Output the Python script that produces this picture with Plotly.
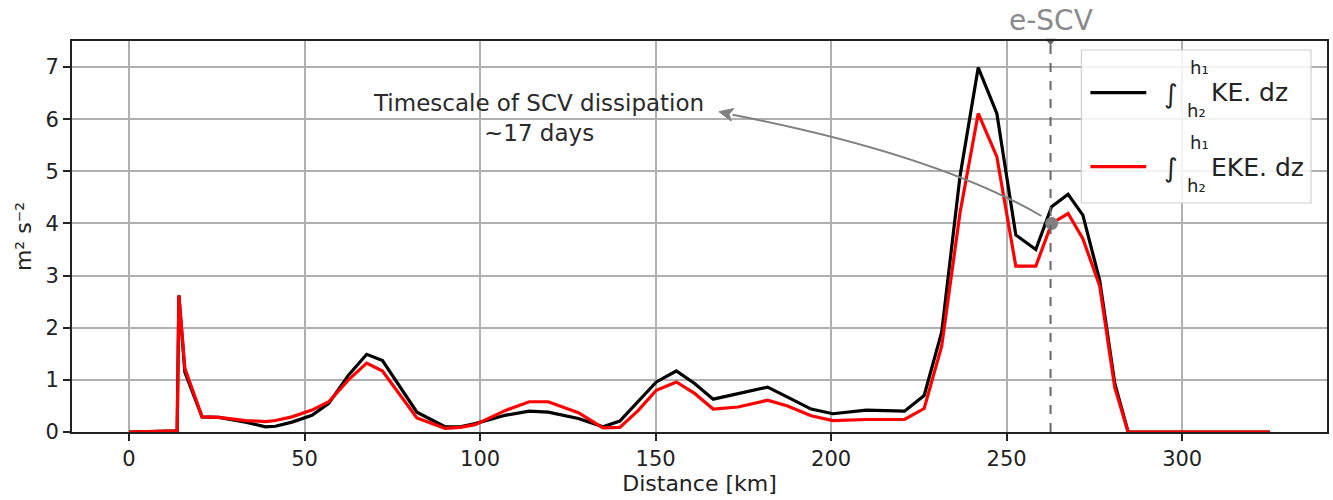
import plotly.graph_objects as go

# ---- data ----
distance_km = [0, 13.7, 14.2, 15.9, 20.8, 25.6, 33.2, 38.9, 41.7, 46.4,
               52.1, 56.9, 62.5, 67.7, 72.2, 82.0, 90.0, 94.3, 98.6, 107.1,
               114.0, 119.4, 128.0, 135.0, 139.8, 145.0, 150.2, 155.9, 161.1, 166.4,
               173.5, 181.9, 187.6, 194.3, 200.5, 210.0, 220.9, 226.5, 231.5, 236.7,
               241.9, 247.2, 252.6, 258.3, 262.8, 267.5, 271.7, 276.5, 280.8, 284.6,
               325.0]
ke_int = [0, 0.02, 2.62, 1.15, 0.29, 0.28, 0.19, 0.10, 0.11, 0.19,
          0.32, 0.55, 1.09, 1.49, 1.37, 0.38, 0.10, 0.10, 0.16, 0.32,
          0.40, 0.38, 0.26, 0.10, 0.21, 0.58, 0.96, 1.17, 0.93, 0.63,
          0.74, 0.86, 0.67, 0.44, 0.35, 0.42, 0.40, 0.70, 1.92, 4.90,
          6.99, 6.11, 3.78, 3.50, 4.32, 4.56, 4.16, 2.91, 0.93, 0.0,
          0.0]
eke_int = [0, 0.02, 2.62, 1.22, 0.29, 0.28, 0.22, 0.20, 0.22, 0.29,
           0.42, 0.58, 1.00, 1.32, 1.17, 0.27, 0.07, 0.09, 0.14, 0.41,
           0.58, 0.58, 0.37, 0.08, 0.09, 0.41, 0.80, 0.96, 0.74, 0.44,
           0.48, 0.61, 0.50, 0.31, 0.22, 0.24, 0.24, 0.45, 1.65, 4.20,
           6.11, 5.28, 3.18, 3.18, 4.00, 4.19, 3.71, 2.80, 0.85, 0.0,
           0.0]
escv_km = 262.5
dissipation_point = (262.8, 4.0)
x_ticks = [0, 50, 100, 150, 200, 250, 300]
y_ticks = [0, 1, 2, 3, 4, 5, 6, 7]
x_range = [-16.25, 341.25]
y_range = [0, 7.5]

FONT = "DejaVu Sans"
GRAY = "#808080"

# plot-area geometry (pixels)
W, H, L, T = 1257, 391, 72, 41


def px(xp):
    return (xp - L) / W


def py(yp):
    return (T + H - yp) / H


def dx(xp):  # pixel -> data x
    return x_range[0] + (xp - L) / W * (x_range[1] - x_range[0])


def dy(yp):  # pixel -> data y
    return y_range[0] + (T + H - yp) / H * (y_range[1] - y_range[0])


fig = go.Figure()
fig.add_trace(go.Scatter(x=distance_km, y=ke_int, mode="lines",
                         name="∫ KE. dz", line=dict(color="black", width=3.2),
                         showlegend=False))
fig.add_trace(go.Scatter(x=distance_km, y=eke_int, mode="lines",
                         name="∫ EKE. dz", line=dict(color="#ff0000", width=3.2),
                         showlegend=False))
fig.add_trace(go.Scatter(x=[dissipation_point[0]], y=[dissipation_point[1]], mode="markers",
                         marker=dict(color=GRAY, size=13), showlegend=False))
fig.add_trace(go.Scatter(x=[escv_km], y=[y_range[1]], mode="markers", cliponaxis=False,
                         marker=dict(color="#666666", size=9, symbol="triangle-down"),
                         showlegend=False))

shapes = []
# e-SCV dashed line
shapes.append(dict(type="line", xref="x", yref="y", x0=escv_km, x1=escv_km,
                   y0=y_range[0], y1=y_range[1],
                   line=dict(color="#666666", width=2, dash="dash"), layer="above"))
# curved arrow body (quadratic curve, pixel geometry -> data)
p0 = (1043, 216)
pc = (936, 154)
tip = (720, 111.7)
base = (733.6, 114.8)
shapes.append(dict(type="path", xref="x", yref="y",
                   path=f"M {dx(p0[0])},{dy(p0[1])} Q {dx(pc[0])},{dy(pc[1])} {dx(base[0])},{dy(base[1])}",
                   line=dict(color=GRAY, width=2), layer="above"))
# arrow head (filled triangle)
b1 = (732.3, 121.0)
b2 = (734.9, 108.6)
notch = (730.0, 114.3)
shapes.append(dict(type="path", xref="x", yref="y",
                   path=(f"M {dx(tip[0])},{dy(tip[1])} L {dx(b1[0])},{dy(b1[1])} "
                         f"L {dx(notch[0])},{dy(notch[1])} L {dx(b2[0])},{dy(b2[1])} Z"),
                   fillcolor=GRAY, line=dict(color=GRAY, width=1), layer="above"))

# legend (manual, to stack integral limits)
shapes.append(dict(type="rect", xref="paper", yref="paper",
                   x0=px(1083), x1=px(1313), y0=py(203), y1=py(50),
                   fillcolor="rgba(255,255,255,0.85)", line=dict(color="#d0d0d0", width=1.2),
                   layer="above"))
for yy, col in [(92.7, "black"), (166.7, "#ff0000")]:
    shapes.append(dict(type="line", xref="paper", yref="paper",
                       x0=px(1092), x1=px(1148), y0=py(yy), y1=py(yy),
                       line=dict(color=col, width=3.2), layer="above"))

annotations = []
annotations.append(dict(x=116.6, y=6.02, xref="x", yref="y", showarrow=False,
                        text="Timescale of SCV dissipation<br>~17 days",
                        font=dict(family=FONT, size=23, color="#2a2a2a"),
                        xanchor="center", yanchor="middle", align="center"))
annotations.append(dict(x=escv_km, y=py(20), xref="x", yref="paper", showarrow=False,
                        text="e-SCV", font=dict(family=FONT, size=28, color="#8a8a8a"),
                        xanchor="center", yanchor="middle"))
for yc, label in [(93, "KE. dz"), (167, "EKE. dz")]:
    annotations.append(dict(x=px(1173), y=py(yc + 1), xref="paper", yref="paper",
                            showarrow=False, text="∫", font=dict(family=FONT, size=26, color="#222"),
                            xanchor="center", yanchor="middle"))
    annotations.append(dict(x=px(1190), y=py(yc - 25), xref="paper", yref="paper",
                            showarrow=False, text="h₁",
                            font=dict(family=FONT, size=18, color="#222"),
                            xanchor="left", yanchor="middle"))
    annotations.append(dict(x=px(1187), y=py(yc + 18), xref="paper", yref="paper",
                            showarrow=False, text="h₂",
                            font=dict(family=FONT, size=18, color="#222"),
                            xanchor="left", yanchor="middle"))
    annotations.append(dict(x=px(1211), y=py(yc), xref="paper", yref="paper",
                            showarrow=False, text=label,
                            font=dict(family=FONT, size=25, color="#222"),
                            xanchor="left", yanchor="middle"))

axis_common = dict(showgrid=True, gridcolor="#b0b0b0", gridwidth=1.5,
                   showline=True, linecolor="#222222", linewidth=2, mirror=True,
                   ticks="outside", ticklen=7, tickwidth=1.5, tickcolor="#222222",
                   zeroline=False, tickfont=dict(family=FONT, size=21, color="#222"))

fig.update_layout(
    width=1333, height=500,
    margin=dict(l=L, r=1333 - L - W, t=T, b=500 - T - H),
    plot_bgcolor="white", paper_bgcolor="white",
    shapes=shapes, annotations=annotations,
    xaxis=dict(range=x_range, tickvals=x_ticks,
               title=dict(text="Distance [km]", font=dict(family=FONT, size=22, color="#222"),
                          standoff=4),
               **axis_common),
    yaxis=dict(range=y_range, tickvals=y_ticks,
               title=dict(text="m² s⁻²",
                          font=dict(family=FONT, size=22, color="#222"), standoff=8),
               **axis_common),
)

fig.write_html("out.html", config={"displayModeBar": False},
               post_script="document.body.style.margin='0';document.body.style.overflow='hidden';")
